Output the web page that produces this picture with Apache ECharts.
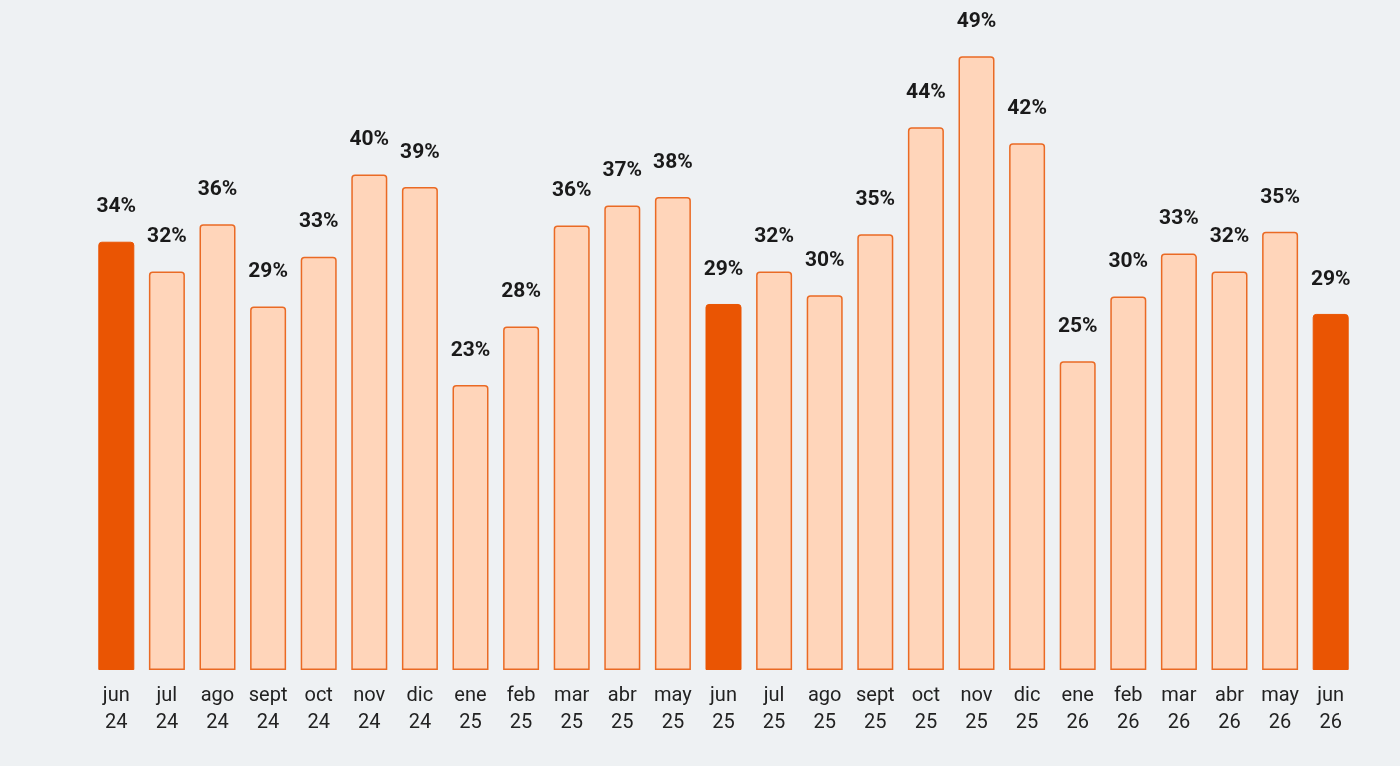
<!DOCTYPE html>
<html style="height: 100%">
<head>
    <meta charset="utf-8">
    <script src="https://cdn.jsdelivr.net/npm/echarts@6/dist/echarts.min.js"></script>
</head>
<body style="height: 100%; margin: 0; background: #eef1f3">
<div id="container" style="width: 1400px; height: 766px"></div>
<script type="text/javascript">
var months = ['jun', 'jul', 'ago', 'sept', 'oct', 'nov', 'dic', 'ene', 'feb', 'mar', 'abr', 'may',
              'jun', 'jul', 'ago', 'sept', 'oct', 'nov', 'dic', 'ene', 'feb', 'mar', 'abr', 'may', 'jun'];
var years = ['24', '24', '24', '24', '24', '24', '24', '25', '25', '25', '25', '25',
             '25', '25', '25', '25', '25', '25', '25', '26', '26', '26', '26', '26', '26'];
var values = [34.4, 32.0, 35.8, 29.2, 33.2, 39.8, 38.8, 22.9, 27.6, 35.7, 37.3, 38.0,
              29.4, 32.0, 30.1, 35.0, 43.6, 49.3, 42.3, 24.8, 30.0, 33.45, 32.0, 35.2, 28.6];
// meses destacados (junio)
var highlight = [0, 12, 24];

var dom = document.getElementById('container');
var myChart = echarts.init(dom);

var categories = months.map(function (m, i) {
    return m + '\n' + years[i];
});

var barData = values.map(function (v, i) {
    var hot = highlight.indexOf(i) >= 0;
    return {
        value: v,
        itemStyle: hot ? {
            color: '#ea5503',
            borderColor: '#ea5503',
            borderWidth: 1
        } : {
            color: '#ffd5ba',
            borderColor: '#ea6a24',
            borderWidth: 1.5
        }
    };
});

var option = {
    backgroundColor: '#eef1f3',
    animation: false,
    grid: {
        left: 91,
        right: 44,
        top: 47.5,
        bottom: 96
    },
    xAxis: {
        type: 'category',
        data: categories,
        axisLine: { show: false },
        axisTick: { show: false },
        axisLabel: {
            interval: 0,
            margin: 12,
            color: '#222222',
            fontFamily: 'Roboto',
            fontSize: 20,
            lineHeight: 27
        }
    },
    yAxis: {
        type: 'value',
        min: 0,
        max: 50,
        show: false,
        splitLine: { show: false }
    },
    series: [{
        type: 'bar',
        data: barData,
        barWidth: 36,
        itemStyle: {
            borderRadius: [3, 3, 0, 0]
        },
        label: {
            show: true,
            position: 'top',
            distance: 24,
            color: '#1a1a1a',
            fontFamily: 'Roboto',
            fontWeight: 'bold',
            fontSize: 21,
            formatter: function (p) {
                return Math.round(p.value) + '%';
            }
        }
    }]
};

myChart.setOption(option, true);
</script>
</body>
</html>
